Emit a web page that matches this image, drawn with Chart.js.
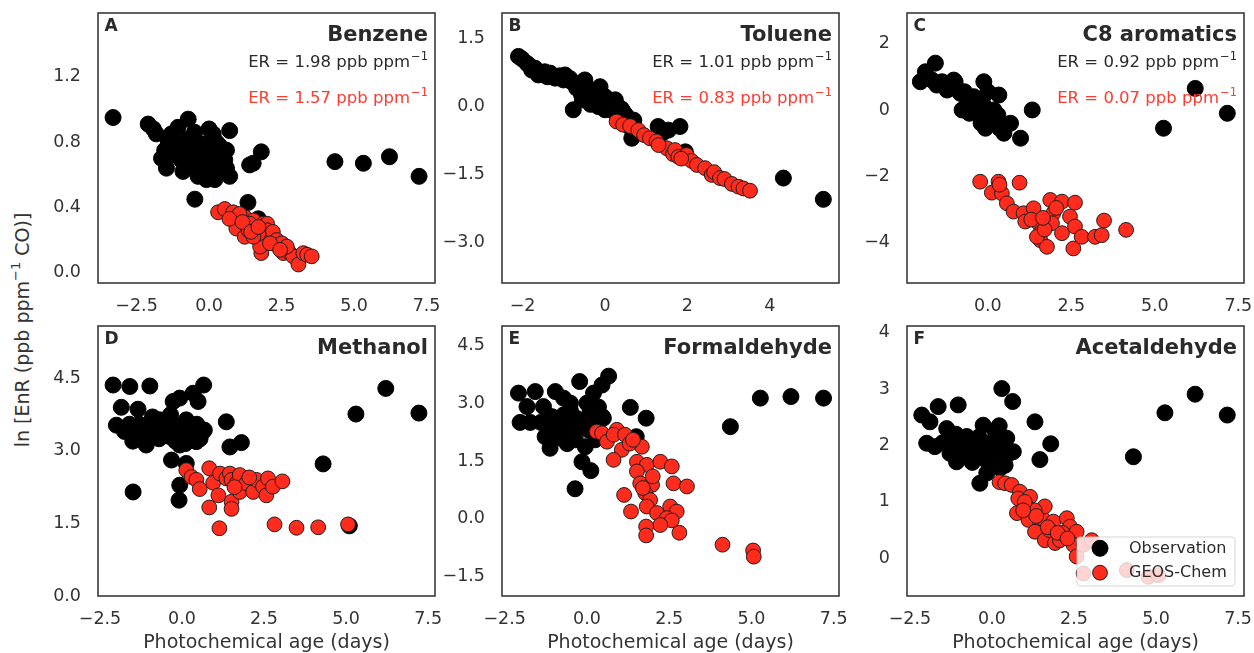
<!DOCTYPE html>
<html>
<head>
<meta charset="utf-8">
<script src="https://cdn.jsdelivr.net/npm/chart.js@4.4.1/dist/chart.umd.min.js"></script>
<style>
  html, body { margin: 0; padding: 0; background: #fff; width: 1254px; height: 653px; overflow: hidden; position: relative; }
  canvas { position: absolute; }
  #ytitle {
    position: absolute; left: 22px; top: 330px;
    transform: translate(-50%, -50%) rotate(-90deg);
    font-family: 'DejaVu Sans', sans-serif; font-size: 19px; color: #333;
    white-space: nowrap; line-height: 1;
  }
  #ytitle sup { font-size: 13px; position: relative; top: -2px; vertical-align: super; line-height: 0; }
</style>
</head>
<body>
<div id="ytitle">ln [EnR (ppb ppm<sup>−1</sup> CO)]</div>
<script>
// ---- species, labels and emission ratios ----
const speciesNames = ['Benzene', 'Toluene', 'C8 aromatics', 'Methanol', 'Formaldehyde', 'Acetaldehyde'];
const panelLetters = ['A', 'B', 'C', 'D', 'E', 'F'];
const obsRatios   = ['1.98', '1.01', '0.92', null, null, null];
const modelRatios = ['1.57', '0.83', '0.07', null, null, null];
const seriesLabels = ['Observation', 'GEOS-Chem'];
const xTitle = 'Photochemical age (days)';

// ---- axis ranges and tick labels ----
const xRanges = [[-3.83, 7.79], [-2.5, 5.68], [-2.42, 7.67], [-2.56, 7.71], [-2.58, 7.66], [-2.59, 7.68]];
const yRanges = [[-0.063, 1.59], [-3.90, 2.07], [-5.21, 2.92], [0, 5.58], [-2.0, 5.0], [-0.67, 4.12]];
const xTickLabels = [
  ['−2.5', '0.0', '2.5', '5.0', '7.5'],
  ['−2', '0', '2', '4'],
  ['0.0', '2.5', '5.0', '7.5'],
  ['−2.5', '0.0', '2.5', '5.0', '7.5'],
  ['−2.5', '0.0', '2.5', '5.0', '7.5'],
  ['−2.5', '0.0', '2.5', '5.0', '7.5']
];
const yTickLabels = [
  ['0.0', '0.4', '0.8', '1.2'],
  ['−3.0', '−1.5', '0.0', '1.5'],
  ['−4', '−2', '0', '2'],
  ['0.0', '1.5', '3.0', '4.5'],
  ['−1.5', '0.0', '1.5', '3.0', '4.5'],
  ['0', '1', '2', '3', '4']
];

// ---- [photochemical age, ln EnR] pairs ----
const benzeneObs = [[-3.31,0.95],[-2.10,0.91],[-1.92,0.88],[-1.82,0.85],[-0.72,0.94],[-1.07,0.89],[-1.30,0.85],[-1.64,0.70],[-1.47,0.64],[-1.18,0.75],[-0.84,0.79],[-0.61,0.73],[-0.72,0.65],[-0.38,0.65],[-0.15,0.73],[-0.27,0.79],[0.14,0.85],[0.71,0.87],[0.42,0.75],[0.54,0.69],[0.71,0.59],[0.20,0.57],[-0.09,0.57],[-0.38,0.59],[0.08,0.65],[0.25,0.69],[-0.49,0.69],[-0.96,0.69],[-1.53,0.75],[-1.18,0.81],[-0.03,0.79],[0.31,0.62],[0.60,0.64],[-0.55,0.77],[-0.80,0.72],[0.00,0.70],[0.35,0.78],[-0.20,0.62],[-1.00,0.78],[-0.70,0.82],[-0.40,0.72],[-0.20,0.68],[0.10,0.60],[0.45,0.62],[0.60,0.75],[-1.30,0.72],[-0.90,0.62],[0.25,0.80],[-0.50,0.86],[0.00,0.88],[-1.40,0.80],[-0.10,0.76],[0.40,0.70],[0.15,0.72],[1.40,0.66],[1.52,0.67],[1.80,0.74],[-0.49,0.45],[1.34,0.43],[1.70,0.33],[4.34,0.68],[5.32,0.67],[6.22,0.71],[7.24,0.59]];
const benzeneModel = [[0.31,0.37],[0.54,0.39],[0.83,0.37],[1.00,0.34],[1.23,0.34],[0.89,0.31],[1.11,0.29],[0.94,0.27],[1.52,0.29],[1.58,0.23],[1.23,0.22],[1.92,0.26],[1.80,0.12],[1.36,0.26],[1.64,0.28],[1.53,0.32],[1.87,0.30],[2.00,0.30],[2.00,0.26],[2.15,0.22],[2.20,0.25],[2.33,0.20],[2.33,0.17],[2.51,0.18],[2.62,0.15],[2.56,0.12],[2.70,0.14],[2.79,0.12],[2.90,0.10],[1.76,0.16],[3.08,0.05],[3.25,0.12],[3.38,0.11],[3.54,0.10],[1.05,0.36],[1.40,0.30],[1.70,0.24],[1.53,0.22],[2.68,0.16],[0.70,0.33],[1.15,0.31],[1.45,0.25],[1.70,0.28],[2.10,0.18],[2.45,0.14]];

const tolueneObs = [[-2.10,1.11],[-2.02,1.06],[-1.90,0.96],[-1.85,0.92],[-1.78,0.81],[-1.70,0.85],[-1.62,0.70],[-1.55,0.72],[-1.46,0.77],[-1.40,0.66],[-1.33,0.74],[-1.21,0.63],[-1.10,0.68],[-1.01,0.59],[-0.97,0.70],[-0.85,0.62],[-0.81,0.55],[-0.69,0.41],[-0.65,0.50],[-0.57,0.26],[-0.77,-0.07],[-0.49,0.59],[-0.45,0.45],[-0.41,0.37],[-0.30,0.30],[-0.25,0.33],[-0.12,0.44],[-0.05,0.25],[0.00,0.22],[-0.32,0.15],[-0.55,0.15],[-0.35,0.05],[-0.10,0.10],[-0.16,0.00],[0.10,0.05],[0.16,0.11],[0.25,0.15],[0.32,0.00],[0.40,-0.05],[0.44,-0.11],[0.50,-0.18],[0.57,-0.26],[0.70,-0.30],[0.00,-0.07],[0.20,-0.10],[0.60,-0.45],[0.65,-0.70],[0.50,-0.35],[1.29,-0.44],[1.54,-0.52],[1.40,-0.58],[1.82,-0.44],[1.95,-1.00],[4.33,-1.58],[5.30,-2.05]];
const tolueneModel = [[0.28,-0.33],[0.44,-0.40],[0.61,-0.43],[0.81,-0.52],[0.95,-0.63],[1.09,-0.70],[1.25,-0.77],[1.50,-0.92],[1.65,-1.05],[1.70,-0.96],[1.78,-1.11],[1.98,-1.07],[2.10,-1.20],[2.23,-1.29],[2.43,-1.36],[2.59,-1.51],[2.65,-1.45],[2.79,-1.58],[2.90,-1.60],[3.08,-1.71],[3.24,-1.77],[3.36,-1.81],[3.52,-1.86],[1.30,-0.85],[1.85,-1.15]];

const c8Obs = [[-1.57,1.41],[-1.87,1.15],[-2.02,0.85],[-1.67,0.90],[-1.53,0.75],[-1.37,0.85],[-1.23,0.65],[-1.02,0.90],[-0.98,0.85],[-1.22,0.60],[-1.10,0.70],[-0.90,0.60],[-0.82,0.50],[-0.70,0.55],[-0.62,0.35],[-0.50,0.30],[-0.30,0.20],[-0.10,0.10],[-0.12,0.85],[0.00,0.55],[-0.77,0.00],[-0.42,0.10],[-0.17,0.30],[-0.42,0.40],[0.33,0.45],[-0.22,-0.20],[0.08,-0.25],[0.10,-0.10],[0.30,-0.15],[0.18,0.00],[-0.07,-0.55],[-0.20,-0.40],[0.35,-0.55],[-0.55,-0.10],[0.23,-0.35],[0.48,-0.70],[0.68,-0.40],[0.98,-0.85],[1.33,0.00],[-0.60,0.15],[-0.30,-0.05],[5.26,-0.55],[6.21,0.65],[7.17,-0.10]];
const c8Model = [[-0.23,-2.16],[0.32,-2.16],[0.95,-2.19],[0.12,-2.49],[0.42,-2.51],[0.57,-2.81],[0.77,-3.06],[1.07,-3.11],[1.37,-2.96],[1.12,-3.36],[1.52,-3.41],[1.57,-3.71],[1.57,-3.92],[1.77,-4.12],[1.87,-2.71],[2.22,-2.76],[2.61,-2.79],[1.96,-3.11],[2.46,-3.21],[1.92,-3.41],[2.22,-3.71],[2.61,-3.51],[2.56,-4.17],[2.81,-3.82],[3.21,-3.82],[3.41,-3.77],[3.48,-3.33],[4.14,-3.61],[1.47,-3.82],[0.35,-2.25],[1.30,-3.30],[1.70,-3.60],[1.65,-3.25],[2.05,-2.95]];

const methanolObs = [[-2.10,4.36],[-1.59,4.33],[-0.98,4.34],[-1.85,3.90],[-1.34,3.86],[-2.00,3.53],[-1.75,3.40],[-1.09,3.12],[-1.49,2.15],[-0.32,2.81],[-0.07,2.29],[-0.09,1.98],[-0.27,4.02],[-0.07,4.09],[0.34,4.19],[0.66,4.36],[0.49,4.02],[0.13,3.64],[0.64,3.40],[0.44,3.19],[-0.07,3.12],[-0.68,3.64],[-0.93,3.53],[-1.20,3.45],[-1.40,3.30],[-0.50,3.40],[-0.30,3.55],[0.00,3.40],[0.30,3.30],[-0.80,3.30],[-0.20,3.20],[-1.60,3.55],[-1.30,3.55],[-1.00,3.40],[-0.70,3.25],[-0.60,3.45],[-0.40,3.30],[-0.10,3.30],[0.20,3.45],[0.45,3.55],[0.55,3.25],[-1.50,3.20],[-0.90,3.70],[0.10,3.15],[-0.35,3.75],[0.68,3.43],[1.35,3.60],[1.46,3.08],[1.81,3.17],[0.13,2.74],[4.30,2.73],[5.10,1.45],[5.30,3.76],[6.21,4.29],[7.22,3.78]];
const methanolModel = [[0.13,2.60],[0.29,2.46],[0.44,2.40],[0.54,2.21],[0.83,2.64],[0.95,2.34],[1.16,2.53],[1.11,2.08],[0.83,1.83],[1.14,1.40],[1.35,2.43],[1.46,2.53],[1.51,2.40],[1.51,1.95],[1.51,1.80],[1.66,2.33],[1.76,2.50],[1.76,2.15],[1.96,2.33],[2.17,2.15],[2.27,2.40],[2.47,2.26],[2.57,2.08],[2.62,2.43],[2.77,2.26],[3.06,2.37],[1.60,2.25],[2.05,2.45],[2.82,1.48],[3.49,1.41],[4.15,1.42],[5.06,1.48]];

const formaldehydeObs = [[-2.08,3.26],[-1.57,3.30],[-1.82,2.91],[-2.03,2.50],[-1.72,2.50],[-1.32,2.91],[-0.96,3.30],[-0.71,3.13],[-1.06,2.65],[-1.27,2.13],[-1.12,1.83],[-0.61,2.13],[-0.22,3.56],[0.00,3.00],[0.20,3.26],[0.46,3.47],[0.66,3.70],[-0.05,1.87],[-0.15,1.48],[0.12,1.25],[-0.36,0.78],[0.50,2.61],[-0.41,2.56],[-0.80,2.40],[-1.00,2.30],[-0.50,2.80],[-0.25,2.40],[0.05,2.30],[-0.60,2.55],[-0.90,2.55],[0.25,2.05],[-1.16,2.39],[0.47,2.65],[-1.40,2.50],[-1.20,2.60],[-1.10,2.25],[-0.85,2.10],[-0.70,2.70],[-0.45,2.30],[-0.30,2.60],[-0.10,2.50],[0.15,2.50],[0.30,2.35],[-0.60,1.95],[-0.35,2.05],[0.35,2.90],[0.10,2.80],[-0.50,3.00],[1.32,2.89],[1.80,2.61],[1.50,2.13],[4.36,2.39],[5.27,3.13],[6.20,3.17],[7.19,3.13]];
const formaldehydeModel = [[0.30,2.26],[0.46,2.22],[0.61,2.00],[0.91,2.31],[0.81,2.18],[1.16,2.18],[1.06,1.79],[0.81,1.53],[1.67,1.87],[1.52,1.48],[1.82,1.40],[1.52,1.23],[2.23,1.48],[2.58,1.36],[1.62,0.92],[1.98,0.88],[2.63,0.92],[3.04,0.84],[1.13,0.62],[1.77,0.67],[1.92,0.49],[1.82,0.32],[1.34,0.19],[2.13,0.15],[2.53,0.32],[2.73,0.19],[2.43,0.02],[2.58,-0.04],[2.23,-0.16],[1.80,-0.20],[1.80,-0.43],[2.81,-0.36],[4.12,-0.67],[5.05,-0.82],[5.07,-0.98],[1.30,1.95],[1.70,0.80],[1.40,2.05],[2.00,1.10]];

const acetaldehydeObs = [[-2.14,2.54],[-1.89,2.42],[-1.64,2.69],[-1.03,2.72],[-1.99,2.04],[-1.74,1.98],[-1.38,2.30],[-1.28,1.86],[-1.08,1.71],[-0.77,2.16],[-0.27,2.36],[0.22,2.35],[0.30,3.01],[0.63,2.78],[0.45,2.13],[0.65,1.89],[-0.37,1.33],[-0.16,1.51],[0.04,1.62],[-0.57,1.92],[-1.00,2.05],[-0.50,2.05],[0.00,1.90],[0.20,1.80],[-0.30,1.95],[-1.20,1.95],[-0.80,1.85],[0.10,2.10],[-1.50,2.05],[-1.10,2.20],[-0.90,1.95],[-0.70,1.85],[-0.40,2.15],[-0.20,1.75],[0.30,2.00],[0.50,1.85],[0.10,2.25],[-0.60,1.70],[0.40,1.65],[-0.05,2.05],[0.25,1.60],[1.31,2.42],[1.79,2.03],[1.46,1.75],[4.31,1.80],[5.27,2.58],[6.19,2.91],[7.17,2.54]];
const acetaldehydeModel = [[0.23,1.35],[0.40,1.33],[0.60,1.30],[0.85,1.18],[0.80,1.06],[1.16,1.09],[1.06,0.92],[0.76,0.80],[1.11,0.68],[1.46,0.65],[1.55,0.70],[1.61,0.92],[1.31,0.47],[1.61,0.32],[1.92,0.27],[1.87,0.65],[2.07,0.32],[2.28,0.71],[2.38,0.56],[2.58,0.47],[2.48,0.24],[2.58,0.03],[2.79,0.24],[3.04,0.32],[2.79,-0.27],[4.11,-0.21],[4.77,-0.33],[5.07,-0.30],[1.30,0.85],[1.75,0.50],[2.15,0.45],[1.00,1.00],[1.35,0.75],[1.70,0.55],[2.00,0.45],[2.30,0.35],[0.95,0.85]];

const obsSeries = [benzeneObs, tolueneObs, c8Obs, methanolObs, formaldehydeObs, acetaldehydeObs];
const modelSeries = [benzeneModel, tolueneModel, c8Model, methanolModel, formaldehydeModel, acetaldehydeModel];

// ---- styling ----
const FONT = "'DejaVu Sans', sans-serif";
const INK = '#2a2a2a';
const TICK_INK = '#333';
const MODEL_RED = '#ff2b1c';
const RED_TEXT = '#ff3b30';
Chart.defaults.font.family = FONT;
Chart.defaults.color = TICK_INK;

// grid geometry (pixels)
const COL_LEFT = [98, 502, 907];
const ROW_TOP = [13, 326];
const PANEL_W = 337, PANEL_H = 270;

const toPoints = arr => arr.map(([x, y]) => ({ x, y }));
const parseLabel = s => parseFloat(s.replace('−', '-'));
const noEdgePadding = s => { s.paddingLeft = 0; s.paddingRight = 0; s.paddingTop = 0; s.paddingBottom = 0; };

// frame around every plot area
const framePlugin = {
  id: 'frame',
  afterDatasetsDraw(chart) {
    const { ctx, chartArea: a } = chart;
    ctx.save();
    ctx.strokeStyle = '#3a3a3a';
    ctx.lineWidth = 1.6;
    ctx.strokeRect(a.left, a.top, a.right - a.left, a.bottom - a.top);
    ctx.restore();
  }
};

function drawRatio(ctx, text, right, y, color) {
  const sup = '−1';
  ctx.fillStyle = color;
  ctx.textAlign = 'right';
  ctx.textBaseline = 'middle';
  ctx.font = `11.5px ${FONT}`;
  const sw = ctx.measureText(sup).width;
  ctx.fillText(sup, right, y - 6);
  ctx.font = `16.5px ${FONT}`;
  ctx.fillText(text, right - sw - 1, y);
}

// panel letter, species name and emission ratios
const panelTextPlugin = {
  id: 'panelText',
  afterDraw(chart, args, opts) {
    const { ctx, chartArea: a } = chart;
    ctx.save();
    ctx.fillStyle = INK;
    ctx.textBaseline = 'middle';
    ctx.textAlign = 'left';
    ctx.font = `bold 17px ${FONT}`;
    ctx.fillText(opts.letter, a.left + 6.5, a.top + 14);
    ctx.textAlign = 'right';
    ctx.font = `bold 21px ${FONT}`;
    ctx.fillText(opts.name, a.right - 7, a.top + 22.5);
    if (opts.obsER) {
      drawRatio(ctx, `ER = ${opts.obsER} ppb ppm`, a.right - 7, a.top + 50, INK);
      drawRatio(ctx, `ER = ${opts.modelER} ppb ppm`, a.right - 7, a.top + 86, RED_TEXT);
    }
    ctx.restore();
  }
};

// boxed legend in the lower right corner of the plot area
const cornerLegendPlugin = {
  id: 'cornerLegend',
  afterDatasetsDraw(chart, args, opts) {
    if (!opts.show) return;
    const { ctx, chartArea: a } = chart;
    const x0 = a.right - 167, x1 = a.right - 9, y0 = a.bottom - 59, y1 = a.bottom - 10;
    ctx.save();
    ctx.beginPath();
    ctx.roundRect(x0, y0, x1 - x0, y1 - y0, 3);
    ctx.fillStyle = 'rgba(255,255,255,0.8)';
    ctx.fill();
    ctx.strokeStyle = 'rgba(204,204,204,0.8)';
    ctx.lineWidth = 1;
    ctx.stroke();
    const rows = [a.bottom - 47.7, a.bottom - 23.3];
    [0, 1].forEach((k, r) => {
      const ds = chart.data.datasets[k];
      ctx.beginPath();
      ctx.arc(a.right - 144, rows[r], ds.pointRadius, 0, Math.PI * 2);
      ctx.fillStyle = ds.backgroundColor;
      ctx.fill();
      ctx.lineWidth = ds.borderWidth;
      ctx.strokeStyle = ds.borderColor;
      ctx.stroke();
      ctx.fillStyle = INK;
      ctx.font = `16px ${FONT}`;
      ctx.textAlign = 'left';
      ctx.textBaseline = 'middle';
      ctx.fillText(ds.label, a.right - 115, rows[r] + 0.5);
    });
    ctx.restore();
  }
};

function makePanel(i) {
  const col = i % 3, row = Math.floor(i / 3);
  const padL = 80, padT = 12, padR = 12, padB = row ? 58 : 42;
  const w = padL + PANEL_W + padR, h = padT + PANEL_H + padB;
  const canvas = document.createElement('canvas');
  canvas.width = w; canvas.height = h;
  canvas.style.width = w + 'px'; canvas.style.height = h + 'px';
  canvas.style.left = (COL_LEFT[col] - padL) + 'px';
  canvas.style.top = (ROW_TOP[row] - padT) + 'px';
  document.body.appendChild(canvas);

  const xLabels = xTickLabels[i], yLabels = yTickLabels[i];
  const xVals = xLabels.map(parseLabel), yVals = yLabels.map(parseLabel);

  new Chart(canvas, {
    type: 'scatter',
    data: {
      datasets: [
        { label: seriesLabels[0], data: toPoints(obsSeries[i]), order: 1,
          backgroundColor: '#000', borderColor: '#000', borderWidth: 1,
          pointRadius: 8, pointHoverRadius: 8 },
        { label: seriesLabels[1], data: toPoints(modelSeries[i]), order: 0,
          backgroundColor: MODEL_RED, borderColor: '#1e1e1e', borderWidth: 1,
          pointRadius: 7.4, pointHoverRadius: 7.4 }
      ]
    },
    options: {
      responsive: false, animation: false, devicePixelRatio: 1, events: [],
      layout: { padding: { left: 0, top: padT, right: padR, bottom: 0 }, autoPadding: false },
      plugins: {
        legend: { display: false }, tooltip: { enabled: false },
        panelText: { letter: panelLetters[i], name: speciesNames[i], obsER: obsRatios[i], modelER: modelRatios[i] },
        cornerLegend: { show: i === 5 }
      },
      scales: {
        x: {
          type: 'linear', min: xRanges[i][0], max: xRanges[i][1],
          grid: { display: false, drawTicks: false }, border: { display: false },
          afterBuildTicks: s => { s.ticks = xVals.map(v => ({ value: v })); },
          afterFit: s => { s.height = padB; noEdgePadding(s); },
          ticks: { autoSkip: false, maxRotation: 0, padding: 13, color: TICK_INK,
                   font: { size: 17.5 }, callback: (v, idx) => xLabels[idx] },
          title: { display: row === 1, text: xTitle, color: TICK_INK,
                   font: { size: 19 }, padding: { top: 0, bottom: 0 } }
        },
        y: {
          type: 'linear', min: yRanges[i][0], max: yRanges[i][1],
          grid: { display: false, drawTicks: false }, border: { display: false },
          afterBuildTicks: s => { s.ticks = yVals.map(v => ({ value: v })); },
          afterFit: s => { s.width = padL; noEdgePadding(s); },
          ticks: { autoSkip: false, padding: 17, color: TICK_INK,
                   font: { size: 17.5 }, callback: (v, idx) => yLabels[idx] }
        }
      }
    },
    plugins: [framePlugin, panelTextPlugin, cornerLegendPlugin]
  });
}

for (let i = 0; i < 6; i++) makePanel(i);
</script>
</body>
</html>
